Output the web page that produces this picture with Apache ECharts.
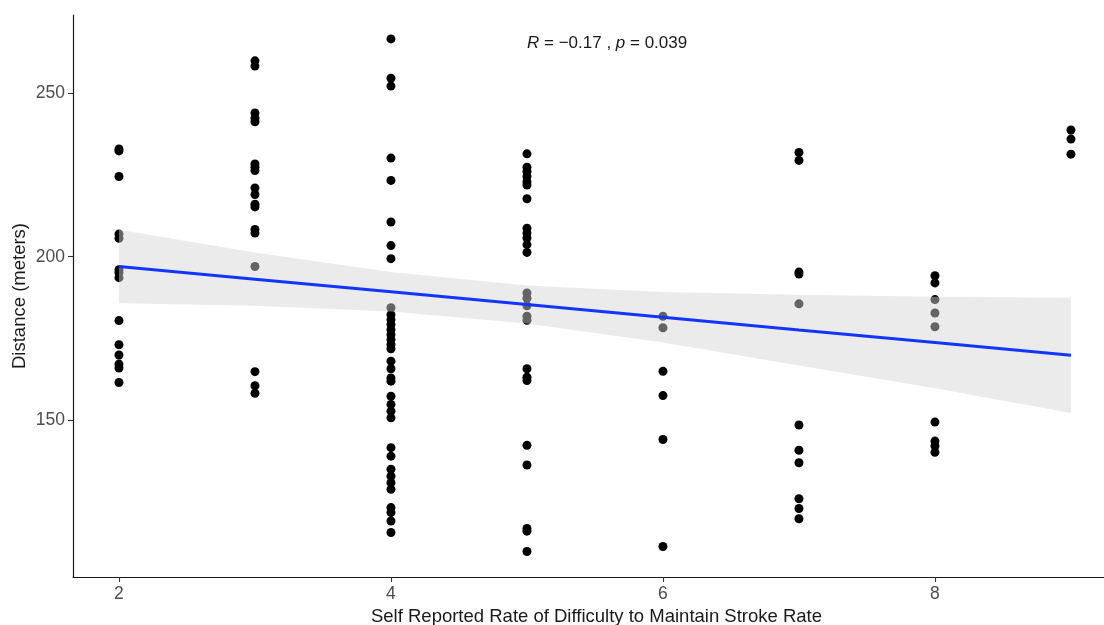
<!DOCTYPE html>
<html>
<head>
<meta charset="utf-8">
<script src="https://cdn.jsdelivr.net/npm/echarts@6/dist/echarts.min.js"></script>
<style>
  html, body { margin: 0; padding: 0; background: #fff; }
  #chart { width: 1104px; height: 625px; }
</style>
</head>
<body>
<div id="chart"></div>
<script>
// Self-reported difficulty rating (x) against distance swum (y), one list per rating
const ratings = [2, 3, 4, 5, 6, 7, 8, 9];
const distancesByRating = [
  [232.9, 232.3, 224.5, 206.9, 205.6, 196.0, 195.1, 193.6, 180.5, 173.1, 170.0, 167.2, 166.0, 161.6],
  [259.8, 258.2, 243.9, 242.3, 241.2, 228.3, 227.3, 226.3, 221.0, 219.0, 216.0, 215.2, 208.3, 207.2, 197.0, 164.9, 160.6, 158.3],
  [266.5, 254.5, 252.1, 230.1, 223.3, 210.6, 203.4, 199.4, 184.4, 182.3, 180.8, 179.3, 177.7, 176.2, 174.7, 173.2, 171.9,
   168.1, 165.8, 163.0, 162.0, 157.4, 154.9, 152.8, 150.8, 141.7, 139.1, 135.1, 133.0, 131.0, 129.0, 123.4, 121.9, 119.3, 115.8],
  [231.4, 227.3, 226.0, 224.5, 222.9, 221.9, 217.7, 208.7, 207.2, 205.7, 203.7, 201.3, 188.9, 187.3, 185.0, 181.8, 180.6,
   165.8, 163.2, 162.2, 142.4, 136.4, 117.0, 116.2, 110.0],
  [181.8, 178.3, 165.0, 157.6, 144.2, 111.5],
  [231.8, 229.4, 195.3, 194.7, 185.6, 148.6, 140.9, 137.1, 126.1, 123.1, 120.0],
  [194.2, 192.0, 186.9, 182.8, 178.6, 149.5, 143.7, 142.2, 140.3],
  [238.7, 235.9, 231.3]
];

// Linear fit with its confidence band, read at each rating
const fitX = [2, 3, 4, 5, 6, 7, 8, 9];
const fitY = [197.0, 193.1, 189.3, 185.4, 181.5, 177.6, 173.8, 169.9];
const bandUpper = [208.2, 201.3, 195.3, 191.2, 189.2, 188.4, 187.8, 187.5];
const bandLower = [185.8, 185.0, 183.3, 179.6, 173.8, 166.8, 159.8, 152.3];

const xTicks = [2, 4, 6, 8];
const yTicks = [150, 200, 250];

const statR = '\u22120.17';
const statP = '0.039';

const points = [];
ratings.forEach((r, i) => distancesByRating[i].forEach(d => points.push([r, d])));

const fitLine = fitX.map((x, i) => [x, fitY[i]]);
const bandData = fitX.map((x, i) => [x, bandLower[i], bandUpper[i]]);

const FONT = '"Liberation Sans", Arial, sans-serif';

const chart = echarts.init(document.getElementById('chart'), null, { renderer: 'canvas' });

chart.setOption({
  backgroundColor: '#ffffff',
  animation: false,
  grid: { left: 73, top: 15, right: 0, bottom: 48, containLabel: false, outerBoundsMode: 'none' },
  xAxis: {
    type: 'value',
    min: 1.662,
    max: 9.243,
    name: 'Self Reported Rate of Difficulty to Maintain Stroke Rate',
    nameLocation: 'middle',
    nameGap: 30,
    nameMoveOverlap: false,
    nameTextStyle: { color: '#1a1a1a', fontSize: 18.5, fontFamily: FONT, padding: [0, 0, 0, 16] },
    axisLine: { show: true, onZero: false, lineStyle: { color: '#1a1a1a', width: 1.2 } },
    axisTick: { show: true, length: 5, customValues: xTicks, lineStyle: { color: '#333', width: 1.1 } },
    axisLabel: { customValues: xTicks, color: '#4d4d4d', fontSize: 17.5, fontFamily: FONT, margin: 8 },
    splitLine: { show: false }
  },
  yAxis: {
    type: 'value',
    min: 102.2,
    max: 273.8,
    name: 'Distance (meters)',
    nameLocation: 'middle',
    nameGap: 44,
    nameMoveOverlap: false,
    nameRotate: 90,
    nameTextStyle: { color: '#1a1a1a', fontSize: 18.5, fontFamily: FONT },
    axisLine: { show: true, onZero: false, lineStyle: { color: '#1a1a1a', width: 1.2 } },
    axisTick: { show: true, length: 5, customValues: yTicks, lineStyle: { color: '#333', width: 1.1 } },
    axisLabel: { customValues: yTicks, color: '#4d4d4d', fontSize: 17.5, fontFamily: FONT, margin: 8 },
    splitLine: { show: false }
  },
  series: [
    {
      type: 'scatter',
      data: points,
      symbol: 'circle',
      symbolSize: 9,
      itemStyle: { color: '#000000', opacity: 1 },
      z: 2
    },
    {
      // translucent confidence band drawn over the points
      type: 'custom',
      data: bandData,
      renderItem: function (params, api) {
        if (params.dataIndex !== 0) return;
        const upper = bandData.map(d => api.coord([d[0], d[2]]));
        const lower = bandData.map(d => api.coord([d[0], d[1]])).reverse();
        return {
          type: 'polygon',
          shape: { points: upper.concat(lower), smooth: 0 },
          style: { fill: 'rgba(213,213,213,0.47)', stroke: null }
        };
      },
      silent: true,
      z: 3
    },
    {
      type: 'line',
      data: fitLine,
      showSymbol: false,
      symbol: 'none',
      lineStyle: { color: '#1236ff', width: 3 },
      z: 4
    }
  ],
  graphic: [
    {
      type: 'text',
      left: 527,
      top: 35,
      style: {
        text: '{i|R} = ' + statR + ' , {i|p} = ' + statP,
        fontSize: 17,
        fontFamily: FONT,
        fill: '#1a1a1a',
        rich: {
          i: { fontStyle: 'italic', fontSize: 17, fontFamily: FONT, fill: '#1a1a1a' }
        }
      }
    }
  ]
});
</script>
</body>
</html>
